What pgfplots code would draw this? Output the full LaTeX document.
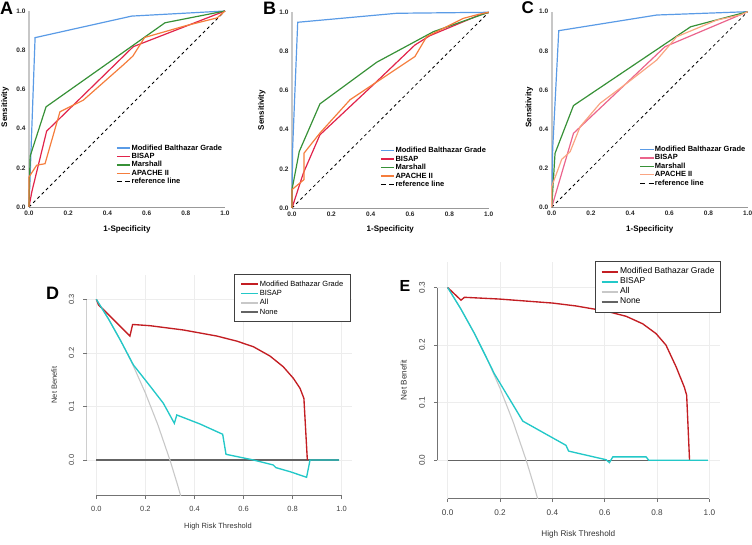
\documentclass[border=0pt]{standalone}
\usepackage{fontspec}
\setmainfont{Liberation Sans}
\usepackage{pgfplots}
\pgfplotsset{compat=1.18}
\definecolor{rocblue}{RGB}{90,155,230}
\definecolor{rocred}{RGB}{225,35,75}
\definecolor{rocgreen}{RGB}{55,145,55}
\definecolor{rocorange}{RGB}{245,125,60}
\definecolor{cred}{RGB}{235,100,140}
\definecolor{corange}{RGB}{250,165,130}
\definecolor{dcared}{RGB}{195,30,35}
\definecolor{dcacyan}{RGB}{35,200,200}
\definecolor{allgray}{RGB}{200,200,200}
\definecolor{nonegray}{RGB}{100,100,100}
\pgfplotsset{
 rocax/.style={scale only axis, anchor=south west, xmin=0, xmax=1, ymin=0, ymax=1, clip=false,
  axis lines*=left,
  x axis line style={draw=black!40, line width=0.8pt},
  y axis line style={draw=black!22, line width=2.2pt},
  xtick={0,0.2,0.4,0.6,0.8,1}, ytick={0,0.2,0.4,0.6,0.8,1},
  major tick length=0pt,
  tick label style={font=\fontsize{6.5}{7}\selectfont\bfseries, text=black!85},
  /pgf/number format/fixed, /pgf/number format/fixed zerofill,
  /pgf/number format/precision=1, /pgf/number format/assume math mode=true,
  legend cell align=left,
  legend style={anchor=north west, draw=none, fill=none, inner sep=0pt,
   font=\fontsize{7.5}{8}\selectfont\bfseries, row sep=0pt,
   nodes={inner sep=0.7pt, text height=5.6pt, text depth=1.4pt}},
  legend image code/.code={\draw[##1] (0pt,0pt) -- (13.3pt,0pt);}},
 dcaax/.style={scale only axis, anchor=south west, xmin=-0.04, xmax=1.04, ymin=-0.0667, ymax=0.345,
  axis line style={draw=none},
  xtick={0,0.2,0.4,0.6,0.8,1}, ytick={0,0.1,0.2,0.3},
  grid=major, major grid style={draw=black!7, line width=0.7pt},
  tick align=outside, tick pos=left, major tick length=3.3pt,
  major tick style={draw=black!55, line width=0.7pt},
  /pgf/number format/fixed, /pgf/number format/fixed zerofill,
  /pgf/number format/precision=1, /pgf/number format/assume math mode=true,
  yticklabel style={rotate=90, anchor=south},
  tick label style={text=black!75},
  legend cell align=left,
  legend style={anchor=north east, draw=black!75, line width=0.8pt, fill=white},
  legend image code/.code={\draw[##1] (0pt,0pt) -- (16.7pt,0pt);}},
 rl/.style={line width=1.2pt, forget plot},
 dl/.style={line width=1.35pt, forget plot}
}
\begin{document}
\begin{tikzpicture}
\path[use as bounding box] (0pt,0pt) rectangle (752pt,544pt);
% ---------------- A
\begin{axis}[rocax, at={(29pt,337pt)}, width=196pt, height=196pt,
  legend style={at={(0.444,0.323)}}]
\addplot[black, dashed, line width=0.8pt, forget plot] coordinates {(0,0) (1,1)};
\addplot[rocblue, rl] coordinates {(0,0) (0.031,0.864) (0.524,0.974) (1,1)};
\addplot[rocred, rl] coordinates {(0,0) (0.015,0.08) (0.09,0.387) (0.532,0.818) (1,1)};
\addplot[rocgreen, rl] coordinates {(0,0) (0.003,0.15) (0.006,0.26) (0.087,0.511) (0.694,0.94) (1,1)};
\addplot[rocorange, rl] coordinates {(0,0) (0,0.153) (0.039,0.213) (0.082,0.221) (0.116,0.34) (0.158,0.486) (0.277,0.545) (0.48,0.724) (0.53,0.77) (0.59,0.865) (0.80,0.925) (0.96,0.965) (1,1)};
\addlegendimage{draw=rocblue, line width=1.4pt}
\addlegendimage{draw=rocred, line width=1.4pt}
\addlegendimage{draw=rocgreen, line width=1.4pt}
\addlegendimage{draw=rocorange, line width=1.4pt}
\addlegendimage{draw=black, dash pattern=on 5pt off 3.3pt, line width=0.9pt}
\legend{Modified Balthazar Grade, BISAP, Marshall, APACHE II, reference line}
\end{axis}
% ---------------- B
\begin{axis}[rocax, at={(292pt,336pt)}, width=196.7pt, height=195.7pt,
  legend style={at={(0.447,0.315)}}]
\addplot[black, dashed, line width=0.8pt, forget plot] coordinates {(0,0) (1,1)};
\addplot[rocblue, rl] coordinates {(0,0) (0.003,0.3) (0.029,0.949) (0.532,0.995) (1,1)};
\addplot[rocred, rl] coordinates {(0,0) (0.058,0.179) (0.142,0.374) (0.422,0.638) (0.625,0.833) (0.70,0.88) (0.95,0.985) (1,1)};
\addplot[rocgreen, rl] coordinates {(0,0) (0,0.094) (0.037,0.289) (0.142,0.532) (0.431,0.745) (0.719,0.901) (1,1)};
\addplot[rocorange, rl] coordinates {(0,0) (0,0.094) (0.061,0.145) (0.061,0.28) (0.142,0.383) (0.295,0.553) (0.625,0.774) (0.685,0.876) (0.871,0.969) (0.95,0.99) (1,1)};
\addlegendimage{draw=rocblue, line width=1.4pt}
\addlegendimage{draw=rocred, line width=1.4pt}
\addlegendimage{draw=rocgreen, line width=1.4pt}
\addlegendimage{draw=rocorange, line width=1.4pt}
\addlegendimage{draw=black, dash pattern=on 5pt off 3.3pt, line width=0.9pt}
\legend{Modified Balthazar Grade, BISAP, Marshall, APACHE II, reference line}
\end{axis}
% ---------------- C
\begin{axis}[rocax, at={(551.7pt,336.7pt)}, width=196pt, height=195.6pt,
  legend style={at={(0.447,0.3185)}}]
\addplot[black, dashed, line width=0.8pt, forget plot] coordinates {(0,0) (1,1)};
\addplot[rocblue, rl] coordinates {(0,0) (0.005,0.3) (0.036,0.903) (0.536,0.983) (1,1)};
\addplot[cred, rl] coordinates {(0,0) (0.111,0.378) (0.578,0.821) (1,1)};
\addplot[rocgreen, rl] coordinates {(0,0) (0.017,0.276) (0.111,0.52) (0.709,0.923) (1,1)};
\addplot[corange, rl] coordinates {(0,0) (0,0.106) (0.051,0.245) (0.094,0.284) (0.145,0.412) (0.247,0.532) (0.383,0.634) (0.536,0.753) (0.638,0.872) (0.842,0.957) (0.961,0.983) (1,1)};
\addlegendimage{draw=rocblue, line width=1.4pt}
\addlegendimage{draw=cred, line width=1.4pt}
\addlegendimage{draw=rocgreen, line width=1.4pt}
\addlegendimage{draw=corange, line width=1.4pt}
\addlegendimage{draw=black, dash pattern=on 5pt off 3.3pt, line width=0.9pt}
\legend{Modified Balthazar Grade, BISAP, Marshall, APACHE II, reference line}
\end{axis}
% ---------------- D
\begin{axis}[dcaax, at={(86.5pt,48.3pt)}, width=265pt, height=220.5pt,
  tick label style={font=\fontsize{7.5}{8}\selectfont},
  xticklabel shift=3.5pt, yticklabel shift=5.5pt,
  legend style={at={(0.998,1.004)}, font=\fontsize{7.5}{8}\selectfont,
   inner xsep=6.3pt, inner ysep=4.5pt, row sep=0pt,
   nodes={inner sep=1pt, text height=5.8pt, text depth=1.6pt}}]
\draw[black!55, line width=0.7pt] (axis cs:0,-0.0667) -- (axis cs:1,-0.0667);
\draw[black!55, line width=0.7pt] (axis cs:-0.04,0) -- (axis cs:-0.04,0.3);
\addplot[nonegray, dl] coordinates {(0,0) (0.99,0)};
\addplot[allgray, dl, line width=1.1pt] coordinates {(0,0.3) (0.05,0.2632) (0.1,0.2222) (0.15,0.1765) (0.2,0.125) (0.25,0.0667) (0.3,0) (0.33,-0.0448) (0.35,-0.0769)};
\addplot[dcared, dl] coordinates {(0,0.3) (0.0095,0.289) (0.029,0.281) (0.137,0.2315) (0.148,0.253) (0.219,0.2507) (0.355,0.2427) (0.490,0.2315) (0.572,0.222) (0.640,0.2115) (0.708,0.194) (0.762,0.174) (0.803,0.1525) (0.830,0.134) (0.846,0.115) (0.860,0.0)};
\addplot[dcacyan, dl] coordinates {(0,0.3) (0.05,0.263) (0.1,0.222) (0.151,0.1775) (0.219,0.138) (0.273,0.106) (0.318,0.0685) (0.328,0.084) (0.4226,0.0672) (0.515,0.048) (0.5285,0.0106) (0.640,0.0) (0.721,-0.0093) (0.732,-0.0143) (0.789,-0.0218) (0.857,-0.0323) (0.871,0) (0.99,0)};
\addlegendimage{draw=dcared, line width=1.6pt}
\addlegendimage{draw=dcacyan, line width=1.6pt}
\addlegendimage{draw=allgray, line width=1.6pt}
\addlegendimage{draw=nonegray, line width=1.6pt}
\legend{Modified Bathazar Grade, BISAP, All, None}
\end{axis}
% ---------------- E
\begin{axis}[dcaax, at={(437.2pt,45.3pt)}, width=282.7pt, height=237.1pt,
  tick label style={font=\fontsize{8.2}{9}\selectfont},
  xticklabel shift=4.5pt, yticklabel shift=5.5pt,
  legend style={at={(1.004,1.0025)}, font=\fontsize{8.5}{9}\selectfont,
   inner xsep=5pt, inner ysep=5.3pt, row sep=0pt,
   nodes={inner sep=1pt, text height=6.2pt, text depth=1.8pt}}]
\draw[black!55, line width=0.7pt] (axis cs:0,-0.0667) -- (axis cs:1,-0.0667);
\draw[black!55, line width=0.7pt] (axis cs:-0.04,0) -- (axis cs:-0.04,0.3);
\addplot[nonegray, dl] coordinates {(0,0) (0.99,0)};
\addplot[allgray, dl, line width=1.1pt] coordinates {(0,0.3) (0.05,0.2632) (0.1,0.2222) (0.15,0.1765) (0.2,0.125) (0.25,0.0667) (0.3,0) (0.33,-0.0448) (0.35,-0.0769)};
\addplot[dcared, dl] coordinates {(0,0.3) (0.051,0.278) (0.064,0.283) (0.197,0.28) (0.401,0.273) (0.49,0.268) (0.605,0.259) (0.682,0.25) (0.745,0.237) (0.796,0.22) (0.834,0.2) (0.873,0.162) (0.904,0.127) (0.913,0.113) (0.924,0)};
\addplot[dcacyan, dl] coordinates {(0,0.3) (0.05,0.263) (0.1,0.222) (0.15,0.1765) (0.178,0.1505) (0.287,0.068) (0.389,0.042) (0.452,0.026) (0.462,0.016) (0.49,0.013) (0.605,0.001) (0.618,-0.004) (0.631,0.006) (0.758,0.006) (0.768,0) (0.994,0)};
\addlegendimage{draw=dcared, line width=1.6pt}
\addlegendimage{draw=dcacyan, line width=1.6pt}
\addlegendimage{draw=allgray, line width=1.6pt}
\addlegendimage{draw=nonegray, line width=1.6pt}
\legend{Modified Bathazar Grade, BISAP, All, None}
\end{axis}
% ---------------- labels
\begin{scope}[every node/.style={inner sep=0pt}]
\node[font=\fontsize{18}{18}\selectfont\bfseries, anchor=base west] at (0pt,529pt) {A};
\node[font=\fontsize{18}{18}\selectfont\bfseries, anchor=base west] at (263pt,529pt) {B};
\node[font=\fontsize{17}{17}\selectfont\bfseries, anchor=base west] at (521.5pt,530pt) {C};
\node[font=\fontsize{18}{18}\selectfont\bfseries, anchor=base west] at (46pt,244pt) {D};
\node[font=\fontsize{16}{16}\selectfont\bfseries, anchor=base west] at (399.3pt,252.3pt) {E};
\node[font=\fontsize{8}{8}\selectfont\bfseries, rotate=90] at (5pt,437pt) {Sensitivity};
\node[font=\fontsize{8}{8}\selectfont\bfseries, rotate=90] at (261.7pt,434pt) {Sensitivity};
\node[font=\fontsize{8}{8}\selectfont\bfseries, rotate=90] at (529.3pt,436.5pt) {Sensitivity};
\node[font=\fontsize{8}{8}\selectfont\bfseries] at (127pt,315pt) {1-Specificity};
\node[font=\fontsize{8}{8}\selectfont\bfseries] at (390.3pt,315pt) {1-Specificity};
\node[font=\fontsize{8}{8}\selectfont\bfseries] at (649.7pt,315pt) {1-Specificity};
\node[font=\fontsize{7.5}{8}\selectfont, text=black!80, rotate=90] at (54.3pt,159pt) {Net Benefit};
\node[font=\fontsize{7.5}{8}\selectfont, text=black!80] at (218pt,17.3pt) {High Risk Threshold};
\node[font=\fontsize{8.2}{9}\selectfont, text=black!80, rotate=90] at (403.7pt,164pt) {Net Benefit};
\node[font=\fontsize{8.2}{9}\selectfont, text=black!80] at (578.3pt,10pt) {High Risk Threshold};
\end{scope}
\end{tikzpicture}
\end{document}
